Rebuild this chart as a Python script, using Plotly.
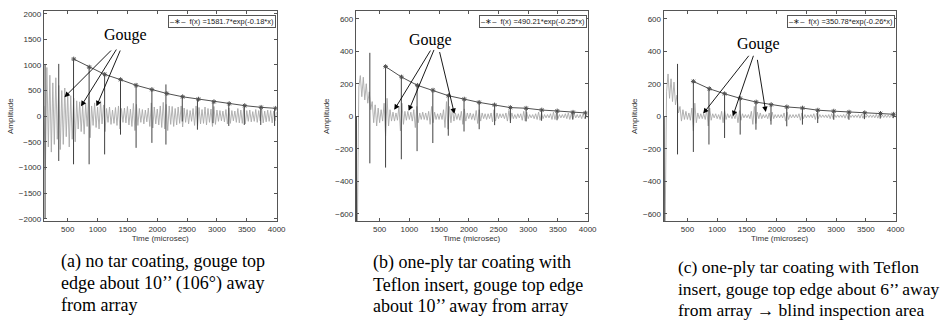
import plotly.graph_objects as go

# ---------------- data ----------------
t_start = 100      # microsec, first sample of the waveform lists
t_step = 25        # microsec between samples

# (a) no tar coating
wave_a = [200, -1050, 950, -600, 800, -700, 650, -550, 750, -450, 600, -650, 500, -550, 550, -400,
          450, -600, 400, -450, 350, -500, 300, -250, 280, -300, 220, -350, 250, -200, 380, -420,
          200, -180, 260, -220, 180, -250, 300, -150, 220, -300, 150, -120, 180, -160, 120, -140,
          170, -180, 200, -250, 150, -120, 160, -130, 190, -170, 140, -200, 250, -280, 230, -180,
          150, -120, 130, -150, 120, -110, 160, -200, 260, -230, 180, -150, 140, -170, 200, -220,
          270, -250, 230, -280, 200, -160, 190, -200, 150, -170, 180, -140, 200, -210, 160, -120,
          130, -150, 110, -100, 150, -180, 200, -190, 170, -150, 130, -140, 180, -170, 150, -120,
          140, -200, 190, -160, 120, -100, 110, -90, 100, -110, 130, -150, 160, -140, 110, -90,
          100, -120, 150, -130, 120, -140, 170, -150, 110, -100, 120, -110, 90, -100, 130, -120,
          110, -90, 140, -130, 100, -110, 120, -100, 110, -130, 100, -90, 80]
echo_t_a = [120, 349, 597, 858, 1118, 1384, 1645, 1910, 2145, 2419, 2673, 2933, 3198, 3458, 3734, 3966]
echo_hi_a = [1000, 1021, 1117, 958, 815, 713, 603, 520, 620, 379, 333, 283, 245, 206, 173, 154]
echo_lo_a = [-2000, -873, -938, -938, -745, -360, -617, -520, -553, -103, -263, -135, -190, -170, -170, -190]
fit_t_a = [600, 860, 1120, 1385, 1645, 1910, 2160, 2425, 2690, 2950, 3205, 3465, 3740, 3985]
fit_v_a = [1115, 958, 815, 713, 603, 520, 443, 379, 333, 283, 245, 206, 173, 154]

# (b) one-ply tar coating with Teflon insert, 10'' away
wave_b = [-50, -700, 180, 250, 120, 240, 100, 200, 80, 150, 40, 90, -40, 70, -60, 50,
          -40, 40, -30, 80, -120, 110, -60, 40, -30, 25, -30, 20, -25, 60, -90, 80,
          -50, 30, -25, 30, -20, 25, -30, 40, -70, 60, -40, 20, -20, 25, -20, 20,
          -25, 30, -50, 60, -40, 25, -20, 15, -20, 20, -20, 40, -70, 90, -80, 60,
          -40, 50, -30, 20, -20, 15, -25, 30, -50, 45, -30, 20, -15, 20, -20, 15,
          -25, 35, -45, 40, -30, 20, -15, 15, -20, 15, -15, 20, -35, 40, -30, 20,
          -15, 15, -10, 15, -15, 20, -30, 35, -30, 20, -15, 10, -15, 15, -10, 15,
          -25, 30, -30, 25, -15, 10, -10, 10, -15, 15, -20, 25, -25, 20, -15, 10,
          -10, 10, -10, 15, -20, 25, -20, 20, -15, 10, -10, 10, -10, 15, -15, 20,
          -20, 15, -20, 15, -10, 10, -10, 10, -15, 15, -15, 10, -10]
echo_t_b = [110, 335, 600, 865, 1130, 1395, 1655, 1920, 2175, 2435, 2700, 2965, 3225, 3485, 3750, 3965]
echo_hi_b = [0, 390, 305, 241, 190, 160, 126, 105, 85, 69, 53, 47, 38, 32, 24, 20]
echo_lo_b = [-700, -290, -316, -265, -215, -165, -120, -94, -80, -55, -42, -32, -28, -25, -20, -15]
fit_t_b = [600, 868, 1135, 1398, 1658, 1924, 2174, 2434, 2700, 2965, 3228, 3488, 3754, 3965]
fit_v_b = [305, 241, 190, 160, 126, 105, 85, 69, 53, 49, 38, 32, 24, 20]

# (c) one-ply tar coating with Teflon insert, 6'' away
wave_c = [-50, -700, 150, 260, 110, 230, 90, 210, 70, 130, 20, 60, -30, 40, -20, 30,
          -20, 20, -25, 50, -90, 80, -40, 20, -15, 15, -15, 15, -20, 40, -60, 50,
          -25, 15, -10, 15, -15, 10, -20, 30, -40, 35, -20, 15, -10, 10, -15, 10,
          -15, 25, -40, 35, -25, 15, -10, 10, -10, 10, -15, 30, -50, 60, -45, 25,
          -15, 20, -15, 10, -10, 10, -15, 20, -30, 25, -15, 10, -10, 10, -10, 10,
          -10, 20, -30, 25, -20, 10, -10, 10, -10, 10, -10, 15, -25, 20, -15, 10,
          -10, 8, -8, 10, -10, 15, -20, 20, -15, 10, -8, 8, -8, 8, -10, 10,
          -15, 15, -15, 10, -8, 8, -8, 8, -8, 10, -12, 15, -15, 10, -8, 8,
          -8, 8, -8, 10, -12, 12, -12, 10, -8, 8, -8, 8, -8, 8, -10, 12,
          -12, 10, -10, 8, -8, 8, -8, 8, -8, 10, -10, 8, -8]
echo_t_c = [110, 334, 600, 862, 1125, 1387, 1652, 1905, 2170, 2433, 2690, 2960, 3215, 3475, 3740, 3960]
echo_hi_c = [0, 322, 215, 170, 138, 109, 87, 71, 58, 50, 38, 32, 25, 20, 16, 12]
echo_lo_c = [-700, -235, -220, -174, -134, -113, -83, -52, -62, -52, -42, -22, -22, -18, -15, -12]
fit_t_c = [600, 868, 1125, 1387, 1656, 1908, 2171, 2435, 2692, 2960, 3217, 3480, 3745, 3966]
fit_v_c = [214, 169, 138, 110, 87, 71, 57, 50, 37, 31, 25, 21, 17, 12]

fit_labels = ["f(x) =1581.7*exp(-0.18*x)", "f(x) =490.21*exp(-0.25*x)", "f(x) =350.78*exp(-0.26*x)"]
y_limits = [2045, 645, 645]
y_ticks = [[-2000, -1500, -1000, -500, 0, 500, 1000, 1500, 2000],
           [-600, -400, -200, 0, 200, 400, 600],
           [-600, -400, -200, 0, 200, 400, 600]]
x_ticks = [500, 1000, 1500, 2000, 2500, 3000, 3500, 4000]
x_limits = [100, 4000]

# gouge annotations: text position, arrow tails and tips (data coords)
gouge_text = [(1468, 1593), (1359, 470), (1700, 443)]
gouge_tails = [[(1250, 1310), (1330, 1330), (1390, 1310)],
               [(1370, 413), (1425, 417), (1503, 404)],
               [(1551, 381), (1618, 381), (1672, 356)]]
gouge_tips = [[(445, 372), (722, 193), (981, 193)],
              [(746, 39), (988, 33), (1758, 15)],
              [(765, 16), (1263, 0), (1817, 26)]]

captions = [["(a) no tar coating, gouge top", "edge about 10\u2019\u2019 (106\u00b0) away", "from array"],
            ["(b) one-ply tar coating with", "Teflon insert, gouge top edge", "about 10\u2019\u2019 away from array"],
            ["(c) one-ply tar coating with Teflon", "insert, gouge top edge about 6\u2019\u2019 away",
             "from array <b>\u2192</b> blind inspection area"]]

# ---------------- figure ----------------
W, H = 942, 332
x_domains = [[44.3 / W, 279.3 / W], [359.3 / W, 593.3 / W], [670 / W, 904.3 / W]]
y_domain = [1 - 221.7 / H, 1 - 9.5 / H]
caption_x = [60, 375, 683]
caption_mid = [263, 264, 268]   # centre of first caption line, px from top
caption_gap = 22
caption_size = [18, 18, 17.5]

waves = [wave_a, wave_b, wave_c]
echoes = [(echo_t_a, echo_hi_a, echo_lo_a), (echo_t_b, echo_hi_b, echo_lo_b), (echo_t_c, echo_hi_c, echo_lo_c)]
fits = [(fit_t_a, fit_v_a), (fit_t_b, fit_v_b), (fit_t_c, fit_v_c)]

SANS = "Liberation Sans, Arial, sans-serif"
SERIF = "Liberation Serif, Times New Roman, serif"

fig = go.Figure()
annotations = []
layout = dict(width=W, height=H, margin=dict(l=0, r=0, t=0, b=0),
              paper_bgcolor="white", plot_bgcolor="white", showlegend=False)

for k in range(3):
    sfx = "" if k == 0 else str(k + 1)
    xa, ya = "x" + sfx, "y" + sfx
    wave = waves[k]
    tgrid = [t_start + t_step * i for i in range(len(wave))]
    fig.add_trace(go.Scatter(x=tgrid, y=wave, mode="lines", xaxis=xa, yaxis=ya,
                             line=dict(color="#a9a9a9", width=0.9), hoverinfo="skip"))
    et, eh, el = echoes[k]
    sx, sy = [], []
    for t, h, l in zip(et, eh, el):
        sx += [t, t, None]
        sy += [l, h, None]
    fig.add_trace(go.Scatter(x=sx, y=sy, mode="lines", xaxis=xa, yaxis=ya,
                             line=dict(color="#404040", width=1), hoverinfo="skip"))
    ft, fv = fits[k]
    fig.add_trace(go.Scatter(x=ft, y=fv, mode="lines+markers", xaxis=xa, yaxis=ya, name=fit_labels[k],
                             line=dict(color="#505050", width=1),
                             marker=dict(symbol="asterisk-open", size=4,
                                         line=dict(color="#333333", width=1))))
    layout["xaxis" + sfx] = dict(domain=x_domains[k], anchor=ya, range=x_limits,
                                 tickvals=x_ticks, ticks="inside", ticklen=3, tickcolor="#555",
                                 showline=True, linecolor="#555", linewidth=1, mirror="ticks",
                                 showgrid=False, zeroline=False,
                                 tickfont=dict(family=SANS, size=8, color="#333"),
                                 title=dict(text="Time (microsec)", standoff=2,
                                            font=dict(family=SANS, size=8, color="#333")))
    lim = y_limits[k]
    layout["yaxis" + sfx] = dict(domain=y_domain, anchor=xa, range=[-lim, lim],
                                 tickvals=y_ticks[k], ticks="inside", ticklen=3, tickcolor="#555",
                                 showline=True, linecolor="#555", linewidth=1, mirror="ticks",
                                 showgrid=False, zeroline=False,
                                 tickfont=dict(family=SANS, size=8, color="#333"),
                                 title=dict(text="Amplitude", standoff=4,
                                            font=dict(family=SANS, size=8, color="#333")))
    # legend box
    annotations.append(dict(xref=xa + " domain", yref=ya + " domain", x=0.996, y=0.984,
                            xanchor="right", yanchor="top", showarrow=False,
                            text="\u2013\u2217\u2013  " + fit_labels[k],
                            font=dict(family=SANS, size=7.5, color="#222"),
                            bgcolor="white", bordercolor="#555", borderwidth=1, borderpad=1))
    # Gouge label and arrows
    gx, gy = gouge_text[k]
    annotations.append(dict(xref=xa, yref=ya, x=gx, y=gy, text="Gouge", showarrow=False,
                            font=dict(family=SERIF, size=16, color="black")))
    for (axx, ayy), (tx, ty) in zip(gouge_tails[k], gouge_tips[k]):
        annotations.append(dict(xref=xa, yref=ya, axref=xa, ayref=ya, x=tx, y=ty, ax=axx, ay=ayy,
                                text="", showarrow=True, arrowhead=2, arrowsize=1.2,
                                arrowwidth=0.9, arrowcolor="black"))
    # caption, one annotation per line
    for j, line in enumerate(captions[k]):
        annotations.append(dict(xref="paper", yref="paper", x=caption_x[k] / W,
                                y=1 - (caption_mid[k] + j * caption_gap) / H,
                                xanchor="left", yanchor="middle", align="left", showarrow=False,
                                text=line, font=dict(family=SERIF, size=caption_size[k], color="black")))

layout["annotations"] = annotations
fig.update_layout(**layout)
fig.write_html("out.html")
